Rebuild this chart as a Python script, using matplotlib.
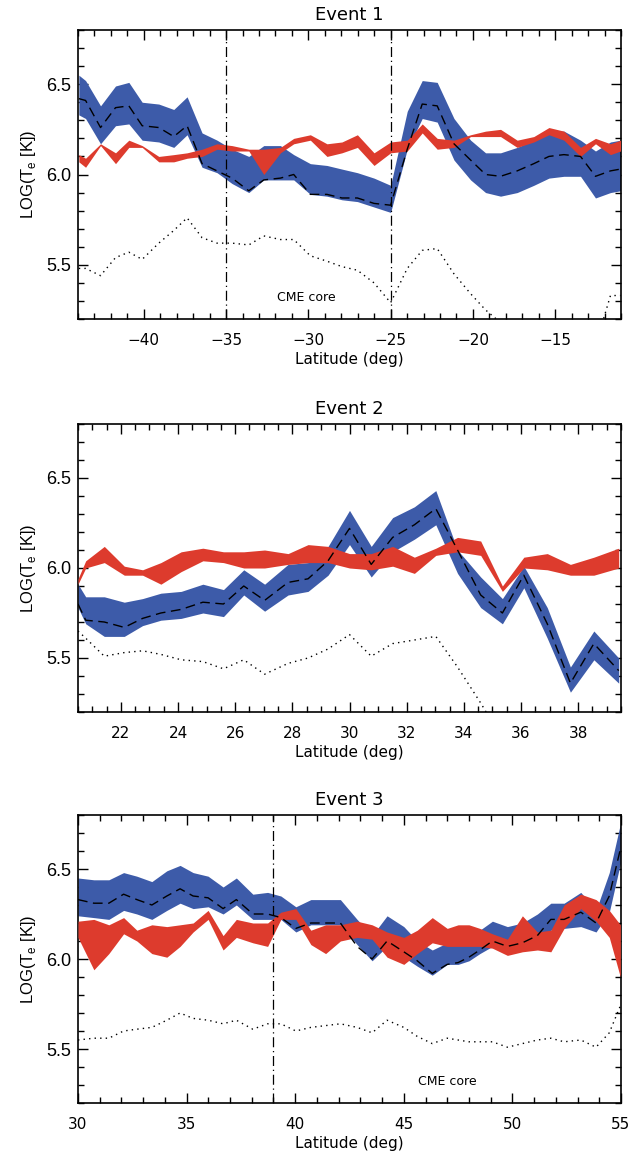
import matplotlib
matplotlib.use("Agg")
import matplotlib.pyplot as plt
from matplotlib.ticker import MultipleLocator, FormatStrFormatter

# ---------------- Event 1 ----------------
lat1 = [-43.95, -43.54, -42.63, -41.72, -40.91, -40.10, -39.09, -38.18, -37.37, -36.46,
        -35.55, -34.64, -33.62, -32.71, -31.70, -30.89, -29.88, -28.87, -27.96, -27.02,
        -26.01, -25.00, -23.99, -23.08, -22.17, -21.15, -20.14, -19.23, -18.32, -17.31,
        -16.30, -15.38, -14.47, -13.46, -12.55, -11.64, -11.03]
blue_hi1 = [6.55, 6.52, 6.38, 6.49, 6.51, 6.40, 6.39, 6.36, 6.43, 6.23,
            6.19, 6.14, 6.10, 6.16, 6.16, 6.11, 6.06, 6.05, 6.03, 6.01,
            5.98, 5.94, 6.35, 6.52, 6.51, 6.31, 6.19, 6.12, 6.12, 6.15,
            6.19, 6.24, 6.24, 6.19, 6.13, 6.18, 6.19]
blue_lo1 = [6.33, 6.31, 6.17, 6.27, 6.28, 6.19, 6.18, 6.15, 6.22, 6.04,
            6.01, 5.95, 5.90, 5.97, 5.97, 5.97, 5.89, 5.88, 5.86, 5.85,
            5.82, 5.79, 6.14, 6.31, 6.29, 6.08, 5.97, 5.90, 5.88, 5.90,
            5.94, 5.98, 5.99, 5.99, 5.87, 5.90, 5.91]
med1 = [6.42, 6.41, 6.26, 6.37, 6.38, 6.27, 6.26, 6.21, 6.27, 6.06,
        6.02, 5.98, 5.91, 5.97, 5.98, 6.00, 5.89, 5.89, 5.87, 5.87,
        5.84, 5.83, 6.14, 6.39, 6.38, 6.17, 6.08, 6.00, 5.99, 6.02,
        6.06, 6.10, 6.11, 6.10, 5.99, 6.02, 6.03]
red_hi1 = [6.11, 6.09, 6.17, 6.12, 6.19, 6.16, 6.10, 6.11, 6.12, 6.14,
           6.17, 6.16, 6.14, 6.14, 6.15, 6.20, 6.22, 6.17, 6.18, 6.22,
           6.12, 6.18, 6.19, 6.28, 6.20, 6.19, 6.22, 6.24, 6.25, 6.19,
           6.21, 6.26, 6.24, 6.15, 6.20, 6.17, 6.19]
red_lo1 = [6.07, 6.04, 6.16, 6.06, 6.15, 6.15, 6.07, 6.07, 6.09, 6.10,
           6.14, 6.13, 6.13, 6.00, 6.12, 6.17, 6.19, 6.10, 6.12, 6.15,
           6.05, 6.12, 6.13, 6.23, 6.14, 6.15, 6.21, 6.21, 6.21, 6.15,
           6.18, 6.22, 6.19, 6.10, 6.17, 6.11, 6.13]
dot1 = [5.48, 5.48, 5.44, 5.54, 5.57, 5.53, 5.62, 5.69, 5.76, 5.65,
        5.62, 5.62, 5.61, 5.66, 5.64, 5.64, 5.55, 5.52, 5.49, 5.47,
        5.40, 5.29, 5.48, 5.58, 5.59, 5.45, 5.34, 5.25, 5.18, 5.12,
        5.08, 5.05, 5.05, 5.08, 5.05, 5.33, 5.33]

# ---------------- Event 2 ----------------
lat2 = [20.50, 20.77, 21.42, 22.12, 22.76, 23.40, 24.11, 24.87, 25.59, 26.30,
        27.03, 27.85, 28.55, 29.25, 30.00, 30.76, 31.51, 32.27, 33.02, 33.78,
        34.59, 35.35, 36.10, 36.92, 37.73, 38.55, 39.42]
blue_hi2 = [5.91, 5.84, 5.84, 5.81, 5.83, 5.86, 5.87, 5.91, 5.88, 5.99,
            5.91, 6.02, 6.03, 6.12, 6.32, 6.12, 6.28, 6.34, 6.43, 6.10,
            5.95, 5.83, 6.01, 5.78, 5.45, 5.65, 5.50]
blue_lo2 = [5.78, 5.69, 5.62, 5.62, 5.68, 5.71, 5.72, 5.75, 5.73, 5.85,
            5.76, 5.85, 5.87, 5.96, 6.13, 5.95, 6.09, 6.16, 6.24, 5.97,
            5.78, 5.69, 5.89, 5.61, 5.31, 5.49, 5.36]
med2 = [5.80, 5.71, 5.70, 5.67, 5.72, 5.75, 5.77, 5.81, 5.80, 5.90,
        5.82, 5.92, 5.94, 6.04, 6.22, 6.02, 6.17, 6.24, 6.33, 6.10,
        5.85, 5.75, 5.96, 5.69, 5.36, 5.58, 5.43]
red_hi2 = [5.94, 6.04, 6.12, 6.01, 5.99, 6.03, 6.09, 6.11, 6.09, 6.09,
           6.10, 6.08, 6.13, 6.12, 6.08, 6.08, 6.12, 6.06, 6.11, 6.17,
           6.15, 5.90, 6.06, 6.08, 6.02, 6.06, 6.11]
red_lo2 = [5.91, 6.00, 6.03, 5.96, 5.96, 5.91, 5.98, 6.04, 6.03, 6.00,
           6.00, 6.02, 6.03, 6.03, 6.00, 5.99, 6.01, 5.97, 6.07, 6.09,
           6.07, 5.87, 6.00, 5.99, 5.96, 5.96, 6.00]
dot2 = [5.65, 5.61, 5.51, 5.53, 5.54, 5.52, 5.49, 5.48, 5.44, 5.49,
        5.41, 5.47, 5.50, 5.55, 5.63, 5.51, 5.58, 5.60, 5.62, 5.45,
        5.25, 5.05, 4.95, 4.90, 4.80, 4.85, 4.80]

# ---------------- Event 3 ----------------
lat3 = [30.00, 30.73, 31.42, 32.10, 32.71, 33.40, 34.09, 34.70, 35.30, 35.99,
        36.68, 37.29, 38.05, 38.73, 39.34, 40.03, 40.72, 41.40, 42.08, 42.85,
        43.54, 44.23, 45.00, 45.62, 46.31, 47.00, 47.50, 48.00, 48.50, 49.08,
        49.77, 50.46, 51.15, 51.77, 52.38, 53.15, 53.85, 54.46, 54.97]
blue_hi3 = [6.45, 6.44, 6.44, 6.48, 6.46, 6.43, 6.49, 6.52, 6.48, 6.46,
            6.40, 6.45, 6.36, 6.37, 6.35, 6.29, 6.33, 6.33, 6.33, 6.22,
            6.13, 6.24, 6.18, 6.10, 6.05, 6.09, 6.09, 6.12, 6.16, 6.21,
            6.18, 6.20, 6.25, 6.31, 6.31, 6.37, 6.27, 6.48, 6.75]
blue_lo3 = [6.24, 6.23, 6.22, 6.27, 6.25, 6.22, 6.27, 6.31, 6.28, 6.29,
            6.25, 6.30, 6.22, 6.22, 6.22, 6.15, 6.19, 6.19, 6.19, 6.08,
            5.99, 6.07, 6.01, 5.96, 5.91, 5.97, 5.97, 5.99, 6.03, 6.07,
            6.09, 6.10, 6.12, 6.16, 6.17, 6.18, 6.15, 6.26, 6.53]
med3 = [6.33, 6.31, 6.31, 6.36, 6.33, 6.30, 6.35, 6.39, 6.35, 6.34,
        6.28, 6.33, 6.25, 6.25, 6.23, 6.17, 6.20, 6.20, 6.20, 6.07,
        6.00, 6.10, 6.04, 5.99, 5.92, 5.97, 5.98, 6.01, 6.05, 6.10,
        6.07, 6.09, 6.13, 6.22, 6.22, 6.26, 6.20, 6.35, 6.61]
red_hi3 = [6.21, 6.22, 6.19, 6.23, 6.16, 6.19, 6.18, 6.19, 6.20, 6.27,
           6.13, 6.22, 6.20, 6.20, 6.26, 6.28, 6.16, 6.19, 6.19, 6.21,
           6.19, 6.15, 6.12, 6.16, 6.23, 6.17, 6.19, 6.19, 6.17, 6.14,
           6.11, 6.24, 6.15, 6.16, 6.30, 6.36, 6.33, 6.27, 6.19]
red_lo3 = [6.12, 5.94, 6.03, 6.14, 6.10, 6.03, 6.01, 6.07, 6.15, 6.22,
           6.05, 6.12, 6.09, 6.07, 6.22, 6.22, 6.08, 6.03, 6.10, 6.12,
           6.11, 6.01, 5.97, 6.03, 6.09, 6.07, 6.07, 6.07, 6.07, 6.06,
           6.02, 6.04, 6.05, 6.04, 6.17, 6.28, 6.21, 6.12, 5.90]
dot3 = [5.55, 5.56, 5.56, 5.60, 5.61, 5.62, 5.66, 5.70, 5.67, 5.66,
        5.64, 5.66, 5.61, 5.64, 5.64, 5.60, 5.62, 5.63, 5.64, 5.62,
        5.59, 5.66, 5.62, 5.57, 5.53, 5.56, 5.55, 5.54, 5.54, 5.54,
        5.51, 5.53, 5.55, 5.56, 5.54, 5.55, 5.51, 5.59, 5.74]

titles = ["Event 1", "Event 2", "Event 3"]
xlims = [(-44, -11), (20.5, 39.5), (30, 55)]
xmajor = [5, 2, 5]
xminor = [1, 0.5, 1]
vlines = [[-35, -25], [], [39]]
core_text = [(-30.1, 5.32), None, (47.0, 5.32)]

BLUE = "#3d5ba9"
RED = "#dd3b2d"

plt.rcParams['font.family'] = ['DejaVu Sans']

fig = plt.figure(figsize=(6.32, 11.59), dpi=100)
W, H = 632.0, 1159.0
boxes = [(30, 319), (424, 712), (815, 1103)]
axes = []
for (top, bot) in boxes:
    ax = fig.add_axes([78 / W, 1 - bot / H, 543 / W, (bot - top) / H])
    axes.append(ax)

datasets = [
    (lat1, blue_hi1, blue_lo1, med1, red_hi1, red_lo1, dot1),
    (lat2, blue_hi2, blue_lo2, med2, red_hi2, red_lo2, dot2),
    (lat3, blue_hi3, blue_lo3, med3, red_hi3, red_lo3, dot3),
]

for i, ax in enumerate(axes):
    lat, bh, bl, md, rh, rl, dt = datasets[i]
    ax.fill_between(lat, bl, bh, color=BLUE, lw=0, zorder=2)
    ax.fill_between(lat, rl, rh, color=RED, lw=0, zorder=3)
    ax.plot(lat, md, color="black", lw=1.0, ls=(0, (7, 4)), zorder=4)
    ax.plot(lat, dt, color="black", lw=1.0, ls=(0, (1, 3)), zorder=4)
    for v in vlines[i]:
        ax.axvline(v, color="black", lw=0.9, ls=(0, (8, 3, 1, 3)), zorder=5)
    if core_text[i] is not None:
        ax.text(core_text[i][0], core_text[i][1], "CME core", ha="center",
                va="center", fontsize=9, zorder=6)
    ax.set_xlim(*xlims[i])
    ax.set_ylim(5.2, 6.8)
    ax.xaxis.set_major_locator(MultipleLocator(xmajor[i]))
    ax.xaxis.set_minor_locator(MultipleLocator(xminor[i]))
    ax.yaxis.set_major_locator(MultipleLocator(0.5))
    ax.yaxis.set_minor_locator(MultipleLocator(0.1))
    ax.yaxis.set_major_formatter(FormatStrFormatter("%.1f"))
    ax.tick_params(which="both", direction="in", top=True, right=True, width=1.0)
    ax.tick_params(which="major", length=7)
    ax.tick_params(which="minor", length=4)
    ax.tick_params(axis="x", which="major", pad=10, labelsize=11)
    ax.tick_params(axis="y", which="major", pad=5, labelsize=13)
    for sp in ax.spines.values():
        sp.set_linewidth(1.2)
    ax.set_title(titles[i], fontsize=13, pad=7)
    ax.set_xlabel("Latitude (deg)", fontsize=11, labelpad=3)
    ax.set_ylabel(r"LOG(T$_\mathregular{e}$ [K])", fontsize=12,
                  family="Liberation Sans", labelpad=6)

fig.canvas.draw()
for ax in axes:
    for lab in ax.get_yticklabels():
        lab.set_fontfamily("Liberation Sans")

fig.savefig("out.png", dpi=100)
